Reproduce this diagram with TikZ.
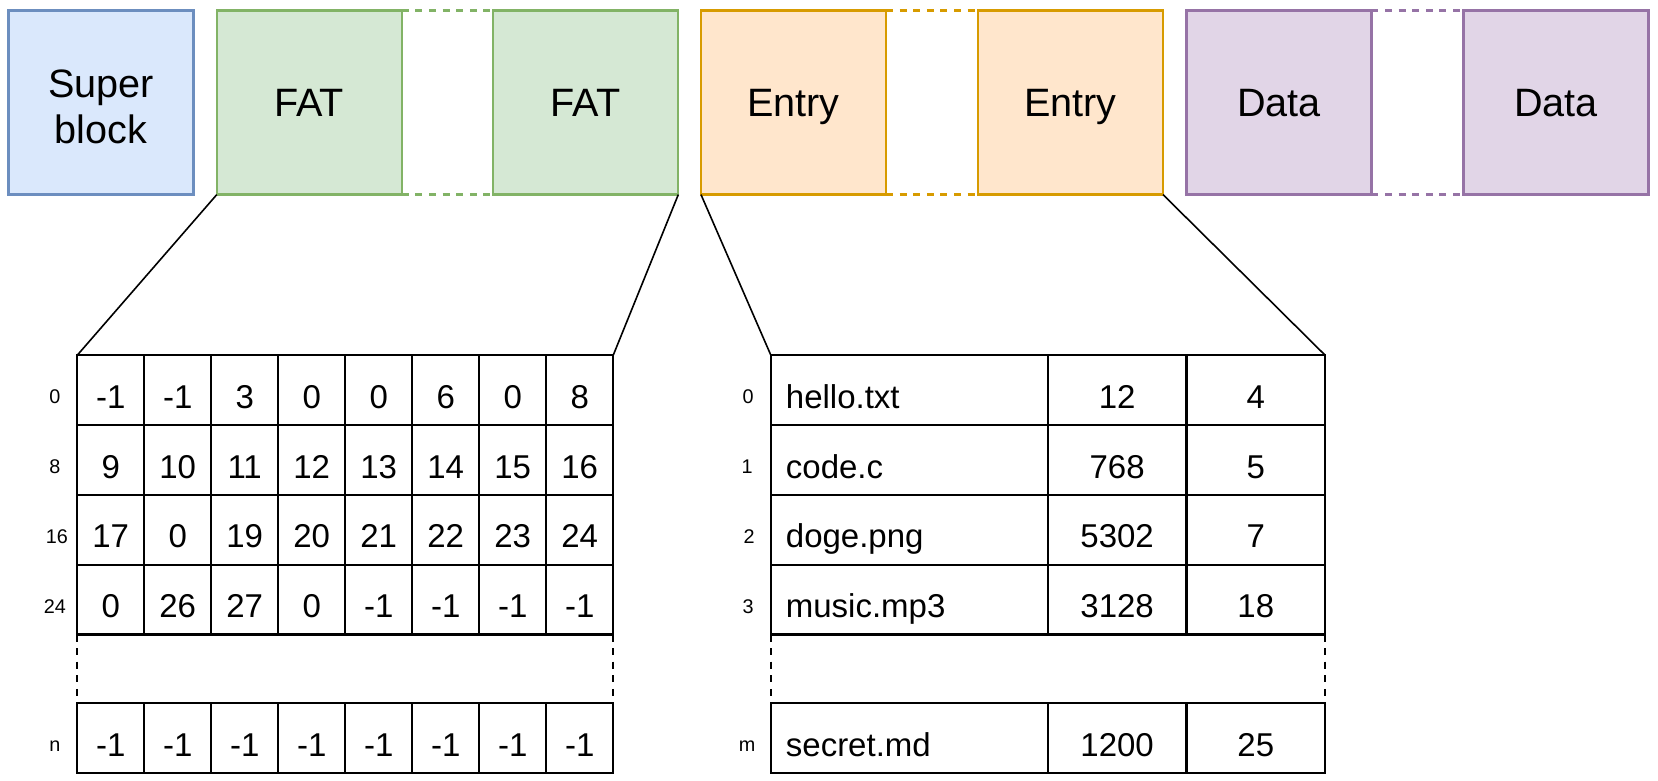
\documentclass[tikz,border=0pt]{standalone}
\usepackage{fontspec}
\setmainfont{Liberation Sans}
\definecolor{bfill}{HTML}{DAE8FC}\definecolor{bline}{HTML}{6C8EBF}
\definecolor{gfill}{HTML}{D5E8D4}\definecolor{gline}{HTML}{82B366}
\definecolor{ofill}{HTML}{FFE6CC}\definecolor{oline}{HTML}{D79B00}
\definecolor{pfill}{HTML}{E1D5E7}\definecolor{pline}{HTML}{9673A6}
\begin{document}
\begin{tikzpicture}[x=1pt,y=-1pt,line width=2.2pt,
  blk/.style={draw,minimum width=185pt,minimum height=184pt,inner sep=0pt,outer sep=0pt,align=center,font=\fontsize{39.6}{44}\selectfont},
  one/.style={text height=28.4pt,text depth=0pt},
  gapline/.style={dash pattern=on 7pt off 6.6pt},
  cell/.style={draw,minimum width=67pt,minimum height=69.8pt,inner sep=0pt,outer sep=0pt,text height=36.2pt,text depth=0pt,font=\fontsize{33}{40}\selectfont},
  ecell/.style={draw,minimum height=69.8pt,inner ysep=0pt,outer sep=0pt,text height=36.2pt,text depth=0pt,font=\fontsize{33}{40}\selectfont},
  rlab/.style={inner sep=0pt,text height=26.8pt,text depth=0pt,font=\fontsize{19.8}{24}\selectfont},
  conn/.style={line width=1.6pt}]
\useasboundingbox (0,0) rectangle (1658,781);
% top blocks
\node[blk,fill=bfill,draw=bline] (sb) at (101,102.6) {};
\node[align=center,inner sep=0pt,font=\fontsize{39.6}{46.5}\selectfont] (sbt) at (101,107) {Super\\block};
\node[blk,one,fill=gfill,draw=gline] (fat1) at (309.3,102.6) {FAT};
\node[blk,one,fill=gfill,draw=gline] (fat2) at (585.8,102.6) {FAT};
\node[blk,one,fill=ofill,draw=oline] (ent1) at (793.5,102.6) {Entry};
\node[blk,one,fill=ofill,draw=oline] (ent2) at (1070.5,102.6) {Entry};
\node[blk,one,fill=pfill,draw=pline] (dat1) at (1278.9,102.6) {Data};
\node[blk,one,fill=pfill,draw=pline] (dat2) at (1555.9,102.6) {Data};
\draw[gapline,gline] (fat1.north east) -- (fat2.north west);
\draw[gapline,gline] (fat1.south east) -- (fat2.south west);
\draw[gapline,oline] (ent1.north east) -- (ent2.north west);
\draw[gapline,oline] (ent1.south east) -- (ent2.south west);
\draw[gapline,pline] (dat1.north east) -- (dat2.north west);
\draw[gapline,pline] (dat1.south east) -- (dat2.south west);
% FAT table
\foreach \row [count=\r from 0] in {{-1,-1,3,0,0,6,0,8},{9,10,11,12,13,14,15,16},{17,0,19,20,21,22,23,24},{0,26,27,0,-1,-1,-1,-1}}{
  \foreach \v [count=\c from 0] in \row {
    \node[cell] (f-\r-\c) at (110.7+\c*67,390.2+\r*69.8) {\v};
  }
}
\foreach \c in {0,...,7}{
  \node[cell] (fn-\c) at (110.7+\c*67,738.1) {-1};
}
\node[rlab] (fl0) at (55,390.2) {0};
\node[rlab] (fl1) at (55,460.0) {8};
\node[rlab] (fl2) at (57,529.8) {16};
\node[rlab] (fl3) at (55,599.6) {24};
\node[rlab] (fln) at (55,738.1) {n};
\draw[gapline] (f-3-0.south west) -- (fn-0.north west);
\draw[gapline] (f-3-7.south east) -- (fn-7.north east);
% Entry table
\foreach \n/\s/\b [count=\r from 0] in {hello.txt/12/4,code.c/768/5,doge.png/5302/7,music.mp3/3128/18}{
  \node[ecell,text width=247pt,inner xsep=15pt,align=left] (e-\r-0) at (909.4,390.2+\r*69.8) {\n};
  \node[ecell,minimum width=138.5pt,inner xsep=0pt] (e-\r-1) at (1117.15,390.2+\r*69.8) {\s};
  \node[ecell,minimum width=138.8pt,inner xsep=0pt] (e-\r-2) at (1255.8,390.2+\r*69.8) {\b};
}
\node[ecell,text width=247pt,inner xsep=15pt,align=left] (en-0) at (909.4,738.1) {secret.md};
\node[ecell,minimum width=138.5pt,inner xsep=0pt] (en-1) at (1117.15,738.1) {1200};
\node[ecell,minimum width=138.8pt,inner xsep=0pt] (en-2) at (1255.8,738.1) {25};
\node[rlab] (el0) at (748,390.2) {0};
\node[rlab] (el1) at (747,460.0) {1};
\node[rlab] (el2) at (749,529.8) {2};
\node[rlab] (el3) at (748,599.6) {3};
\node[rlab] (eln) at (747,738.1) {m};
\draw[gapline] (e-3-0.south west) -- (en-0.north west);
\draw[gapline] (e-3-2.south east) -- (en-2.north east);
% connectors
\draw[conn] (fat1.south west) -- (f-0-0.north west);
\draw[conn] (fat2.south east) -- (f-0-7.north east);
\draw[conn] (ent1.south west) -- (e-0-0.north west);
\draw[conn] (ent2.south east) -- (e-0-2.north east);
\end{tikzpicture}
\end{document}
